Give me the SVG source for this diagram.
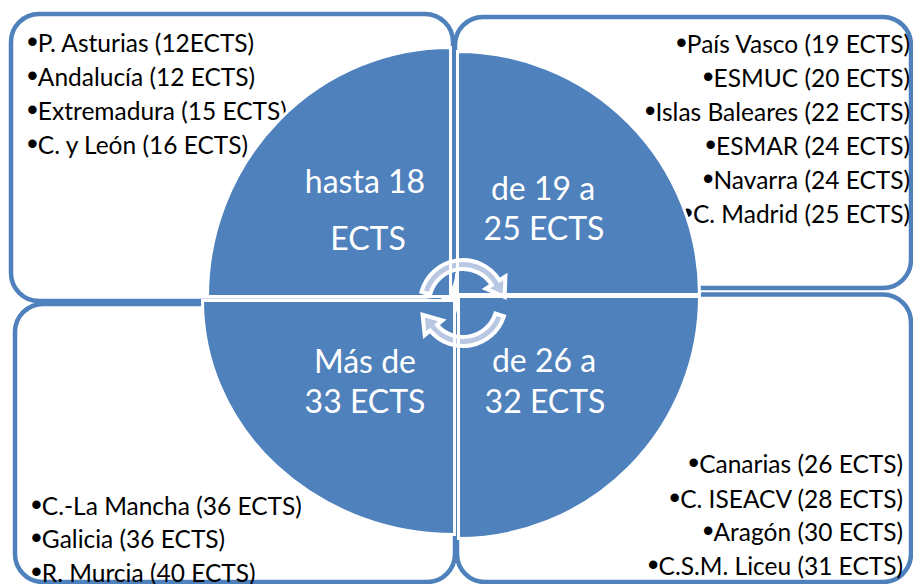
<svg xmlns="http://www.w3.org/2000/svg" xmlns:xlink="http://www.w3.org/1999/xlink" width="913" height="584" viewBox="0 0 913 584">
<style>
.box{fill:#fff;stroke:#4F81BD;stroke-width:4.5}
.qfill{fill:#4F81BD;stroke:none}
.qline{fill:none;stroke:#fff;stroke-width:3}
.arr{fill:#B9C8E2;stroke:#fff;stroke-width:4;stroke-linejoin:miter}
.t{font-family:Lato,"Liberation Sans",sans-serif;font-size:24.5px;fill:#000}
.b{font-family:"Liberation Sans",sans-serif;font-size:31px}
.e{text-anchor:end}
.q{font-family:Lato,"Liberation Sans",sans-serif;font-size:32px;fill:#fff;text-anchor:middle}
</style>
<defs>
<path id="pTL" d="M450.5,296.5 L207.5,296.5 A243,249 0 0,1 450.5,47.5 Z"/>
<path id="pTR" d="M457.5,294.5 L457.5,51.5 A242,243 0 0,1 699.5,294.5 Z"/>
<path id="pBR" d="M458.5,296.5 L699.5,296.5 A241,242 0 0,1 458.5,538.5 Z"/>
<path id="pBL" d="M454.5,300.5 L454.5,534.5 A252,234 0 0,1 202.5,300.5 Z"/>
</defs>
<g id="box-tl">
<rect class="box" x="11" y="14" width="442" height="287" rx="28"/>
<text class="t" x="27" y="52"><tspan class="b">•</tspan>P. Asturias (12ECTS)</text>
<text class="t" x="27" y="86"><tspan class="b">•</tspan>Andalucía (12 ECTS)</text>
<text class="t" x="27" y="120"><tspan class="b">•</tspan>Extremadura (15 ECTS)</text>
<text class="t" x="27" y="154"><tspan class="b">•</tspan>C. y León (16 ECTS)</text>
</g>
<g id="box-tr">
<rect class="box" x="455" y="17" width="456" height="271" rx="28"/>
<text class="t e" x="910" y="53"><tspan class="b">•</tspan>País Vasco (19 ECTS)</text>
<text class="t e" x="910" y="87"><tspan class="b">•</tspan>ESMUC (20 ECTS)</text>
<text class="t e" x="910" y="121"><tspan class="b">•</tspan>Islas Baleares (22 ECTS)</text>
<text class="t e" x="910" y="155"><tspan class="b">•</tspan>ESMAR (24 ECTS)</text>
<text class="t e" x="910" y="189"><tspan class="b">•</tspan>Navarra (24 ECTS)</text>
<text class="t e" x="910" y="223"><tspan class="b">•</tspan>C. Madrid (25 ECTS)</text>
</g>
<g id="box-bl">
<rect class="box" x="15" y="304" width="440" height="278" rx="28"/>
<text class="t" x="31" y="515"><tspan class="b">•</tspan>C.-La Mancha (36 ECTS)</text>
<text class="t" x="31" y="548"><tspan class="b">•</tspan>Galicia (36 ECTS)</text>
<text class="t" x="31" y="582"><tspan class="b">•</tspan>R. Murcia (40 ECTS)</text>
</g>
<g id="box-br">
<rect class="box" x="457" y="294.5" width="454" height="287.5" rx="28"/>
<text class="t e" x="903" y="473"><tspan class="b">•</tspan>Canarias (26 ECTS)</text>
<text class="t e" x="903" y="508"><tspan class="b">•</tspan>C. ISEACV (28 ECTS)</text>
<text class="t e" x="903" y="541"><tspan class="b">•</tspan>Aragón (30 ECTS)</text>
<text class="t e" x="903" y="575"><tspan class="b">•</tspan>C.S.M. Liceu (31 ECTS)</text>
</g>
<g id="q-tl">
<use xlink:href="#pTL" class="qfill"/>
<text class="q" x="365" y="193">hasta 18</text>
<text class="q" x="368" y="250">ECTS</text>
</g>
<g id="q-tr">
<use xlink:href="#pTR" class="qfill"/>
<text class="q" x="543" y="200">de 19 a</text>
<text class="q" x="544" y="240">25 ECTS</text>
</g>
<g id="q-br">
<use xlink:href="#pBR" class="qfill"/>
<text class="q" x="544" y="372">de 26 a</text>
<text class="q" x="545" y="413">32 ECTS</text>
</g>
<g id="q-bl">
<use xlink:href="#pBL" class="qfill"/>
<text class="q" x="365" y="373">Más de</text>
<text class="q" x="365" y="413">33 ECTS</text>
</g>
<g id="connectors">
<path class="arr" d="M421.47,291.87 A43,43 0 0,1 499.46,280.21 L505.4,276.5 L504.66,297.02 L485.9,288.69 L491.83,284.98 A34,34 0 0,0 430.16,294.2 Z"/>
<path class="arr" d="M503.9,316.29 A43,43 0 0,1 430.06,330.64 L424.7,335.14 L422.58,314.73 L442.32,320.36 L436.96,324.86 A34,34 0 0,0 495.34,313.51 Z"/>
</g>
<g id="quadrant-outlines">
<use xlink:href="#pTL" class="qline"/>
<use xlink:href="#pTR" class="qline"/>
<use xlink:href="#pBR" class="qline"/>
<use xlink:href="#pBL" class="qline"/>
</g>
</svg>
